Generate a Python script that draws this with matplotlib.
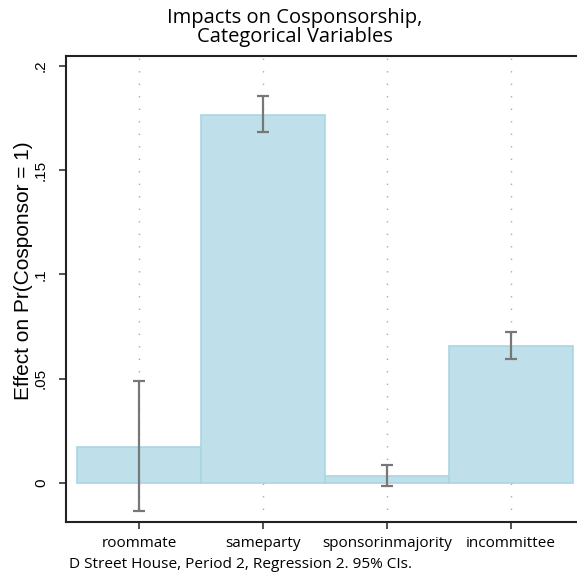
import matplotlib.pyplot as plt
import numpy as np

# data
categories = ['roommate', 'sameparty', 'sponsorinmajority', 'incommittee']
effects = [0.0173, 0.1764, 0.0034, 0.0657]
ci_low = [-0.0135, 0.1683, -0.0014, 0.0596]
ci_high = [0.0487, 0.1856, 0.0085, 0.0724]
yticks = [0, 0.05, 0.1, 0.15, 0.2]
ytick_labels = ['0', '.05', '.1', '.15', '.2']

x = np.arange(1, len(categories) + 1)
effects = np.array(effects)
err = np.array([effects - np.array(ci_low), np.array(ci_high) - effects])

fig = plt.figure(figsize=(5.77, 5.79), dpi=100)
ax = fig.add_axes([66/577, 57/579, (580-66)/577, (522-56)/579])

for xi in x:
    ax.axvline(xi, color='#aaaaaa', linewidth=1, linestyle=(0, (1, 8)), zorder=0)

ax.bar(x, effects, width=1.0, color='#bfe0ea', edgecolor='#aad6e3', linewidth=1.2, zorder=2)
ax.errorbar(x, effects, yerr=err, fmt='none', ecolor='#777777', elinewidth=1.6,
            capsize=4, capthick=1.6, zorder=3)

ax.set_xlim(0.411, 1 + (580-139)/124)
ax.set_ylim(-0.0188, 0.2048)

ax.set_xticks(x)
ax.set_xticklabels(categories, fontfamily='Open Sans', fontsize=11)
ax.set_yticks(yticks)
ax.set_yticklabels(ytick_labels, rotation=90, va='center', fontfamily='Liberation Sans', fontsize=11)
ax.tick_params(axis='both', direction='out', length=5, width=1.3, color='#444444', pad=5)
ax.tick_params(axis='y', pad=8)

for side in ['left', 'bottom', 'top', 'right']:
    ax.spines[side].set_linewidth(1.5)
    ax.spines[side].set_color('#222222')

ax.set_ylabel('Effect on Pr(Cosponsor = 1)', fontfamily='Liberation Sans', fontsize=15, labelpad=8)
ax.yaxis.set_label_coords(-0.064, 0.54)

fig.text(0.511, 0.986, 'Impacts on Cosponsorship,\nCategorical Variables', ha='center', va='top',
         fontfamily='Open Sans', fontsize=14.5, linespacing=0.9)
fig.text(69/577, 1 - 564/579, 'D Street House, Period 2, Regression 2. 95% CIs.', ha='left', va='center',
         fontfamily='Open Sans', fontsize=11.1)

plt.savefig('out.png', dpi=100, facecolor='white')
